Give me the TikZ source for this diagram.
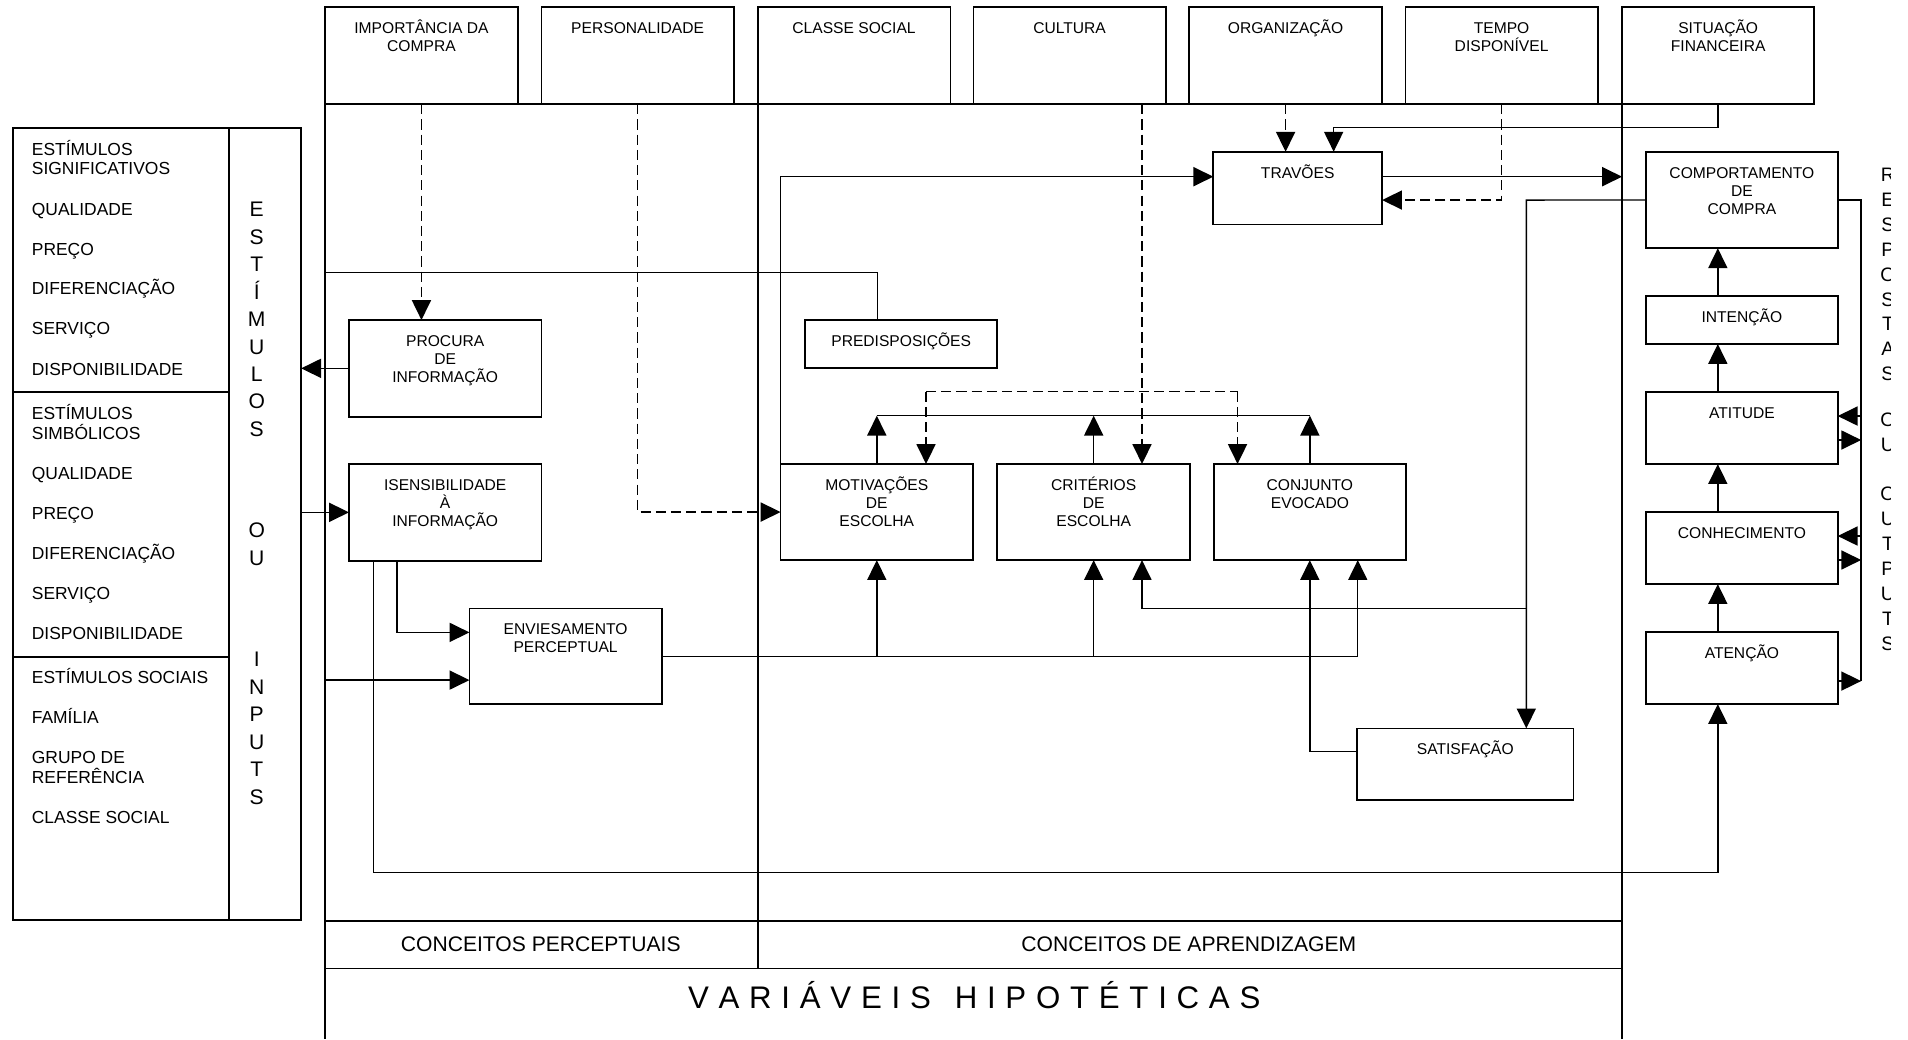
\documentclass[tikz,border=0pt]{standalone}
\usepackage{fontspec}
\setmainfont{Liberation Sans}
\usetikzlibrary{arrows.meta,fit}
\newcommand\mybox[6]{%
  \node[bx,fit={(#2,#3)(#4,#5)}] (#1) {};
  \node[lbl,anchor=north] (#1t) at ([yshift=-5.5pt]#1.north) {\rule{0pt}{7.5pt}#6};}
\newcommand\ltx[3]{%
  \node[ltxt,anchor=north west] (#1) at ([yshift=9pt]26.2,#2) {\rule{0pt}{9pt}#3};}
\begin{document}
\begin{tikzpicture}[x=0.6pt,y=-0.6pt,
  bx/.style={draw,line width=0.85pt,inner sep=0pt,outer sep=0pt},
  bl/.style={line width=0.85pt},
  lbl/.style={inner sep=0pt,outer sep=0pt,align=center,font=\fontsize{7.7}{8.9}\selectfont},
  ltxt/.style={inner sep=0pt,outer sep=0pt,align=left,font=\fontsize{8.6}{9.84}\selectfont},
  vlet/.style={inner sep=0pt,outer sep=0pt,align=center,font=\fontsize{10.4}{13.54}\selectfont},
  rlet/.style={inner sep=0pt,outer sep=0pt,align=center,font=\fontsize{9.6}{12.3}\selectfont},
  blab/.style={inner sep=0pt,outer sep=0pt,font=\fontsize{10.4}{12}\selectfont},
  ln/.style={line width=0.7pt},
  arr/.style={ln,-{Triangle[length=9.8pt,width=9.4pt]}},
  dsh/.style={dash pattern=on 5pt off 2.5pt}]
\useasboundingbox (0,0) rectangle (1568,854);

% frame
\draw[bl] (267.2,6) -- (267.2,854);
\draw[bl] (1333,6) -- (1333,854);
\draw[bl] (622.7,85.7) -- (622.7,795.8);
\draw[bl] (267.2,85.7) -- (1333,85.7);
\draw[bl] (267.2,756.6) -- (1333,756.6);
\draw[bl] (267.2,795.8) -- (1333,795.8);

% top boxes
\mybox{imp}{267.2}{6}{425.5}{85.7}{IMPORTÂNCIA DA\\COMPRA}
\mybox{per}{445}{6}{603}{85.7}{PERSONALIDADE}
\mybox{cls}{622.7}{6}{781}{85.7}{CLASSE SOCIAL}
\mybox{cul}{800}{6}{958}{85.7}{CULTURA}
\mybox{org}{977.3}{6}{1135.7}{85.7}{ORGANIZAÇÃO}
\mybox{tem}{1155}{6}{1313}{85.7}{TEMPO\\DISPONÍVEL}
\mybox{sit}{1333}{6}{1491}{85.7}{SITUAÇÃO\\FINANCEIRA}

% inner boxes
\mybox{trav}{997.1}{124.7}{1135.8}{184.4}{TRAVÕES}
\mybox{proc}{286.8}{263}{444.9}{342.4}{PROCURA\\DE\\INFORMAÇÃO}
\mybox{pred}{661.6}{263}{819.6}{302.7}{PREDISPOSIÇÕES}
\mybox{isen}{286.8}{381.3}{444.9}{460.8}{ISENSIBILIDADE\\À\\INFORMAÇÃO}
\mybox{envi}{385.8}{500}{543.8}{578.8}{ENVIESAMENTO\\PERCEPTUAL}
\mybox{mot}{641.5}{381.3}{799.6}{460.3}{MOTIVAÇÕES\\DE\\ESCOLHA}
\mybox{cri}{819.6}{381.3}{978}{460.3}{CRITÉRIOS\\DE\\ESCOLHA}
\mybox{con}{997.5}{381.3}{1155.4}{460.3}{CONJUNTO\\EVOCADO}
\mybox{sat}{1115.4}{598.6}{1293}{657.5}{SATISFAÇÃO}
\mybox{comp}{1352.8}{124.7}{1510.2}{204}{COMPORTAMENTO\\DE\\COMPRA}
\mybox{int}{1352.8}{243.3}{1510.2}{282.7}{INTENÇÃO}
\mybox{ati}{1352.8}{322.4}{1510.2}{381.4}{ATITUDE}
\mybox{conh}{1352.8}{421}{1510.2}{480}{CONHECIMENTO}
\mybox{aten}{1352.8}{519.5}{1510.2}{578.6}{ATENÇÃO}

% stimulus panel
\node[bx,fit={(10.6,104.9)(247.5,756.2)}] (stim) {};
\draw[bl] (188,104.9) -- (188,756.2);
\draw[bl] (10.6,322.4) -- (188,322.4);
\draw[bl] (10.6,539.7) -- (188,539.7);
\ltx{l1}{127.4}{ESTÍMULOS\\SIGNIFICATIVOS}
\ltx{l2}{176.7}{QUALIDADE}
\ltx{l3}{209.6}{PREÇO}
\ltx{l4}{242.4}{DIFERENCIAÇÃO}
\ltx{l5}{275.3}{SERVIÇO}
\ltx{l6}{308.2}{DISPONIBILIDADE}
\ltx{m1}{344.6}{ESTÍMULOS\\SIMBÓLICOS}
\ltx{m2}{393.9}{QUALIDADE}
\ltx{m3}{426.8}{PREÇO}
\ltx{m4}{459.6}{DIFERENCIAÇÃO}
\ltx{m5}{492.5}{SERVIÇO}
\ltx{m6}{525.4}{DISPONIBILIDADE}
\ltx{n1}{561.6}{ESTÍMULOS SOCIAIS}
\ltx{n2}{594.5}{FAMÍLIA}
\ltx{n3}{627.4}{GRUPO DE\\REFERÊNCIA}
\ltx{n4}{676.6}{CLASSE SOCIAL}
\node[vlet,anchor=north] (v1) at ([yshift=11pt]211,178.1) {\rule{0pt}{11pt}E\\S\\T\\Í\\M\\U\\L\\O\\S};
\node[vlet,anchor=north] (v2) at ([yshift=11pt]211,442) {\rule{0pt}{11pt}O\\U};
\node[vlet,anchor=north] (v3) at ([yshift=11pt]211,548) {\rule{0pt}{11pt}I\\N\\P\\U\\T\\S};

% right vertical text (clipped at the picture edge)
\begin{scope}
\clip (1535,100) rectangle (1553.3,560);
\node[rlet,anchor=north] (r1) at ([yshift=10pt]1551.5,149) {\rule{0pt}{10pt}R\\E\\S\\P\\O\\S\\T\\A\\S};
\node[rlet,anchor=north] (r2) at ([yshift=10pt]1551.5,350.7) {\rule{0pt}{10pt}O\\U};
\node[rlet,anchor=north] (r3) at ([yshift=10pt]1551.5,411.5) {\rule{0pt}{10pt}O\\U\\T\\P\\U\\T\\S};
\end{scope}

% bottom labels
\node[blab,anchor=base] (cp) at (444.4,782) {CONCEITOS PERCEPTUAIS};
\node[blab,anchor=base] (ca) at (977,782) {CONCEITOS DE APRENDIZAGEM};
\node[inner sep=0pt,anchor=base,font=\fontsize{15.4}{18}\selectfont] (vh) at (800.6,828.7)
  {\spaceskip=4.8pt\relax V A R I Á V E I S\hspace{7pt} H I P O T É T I C A S};

% coordinates
\coordinate (cx) at (938.5,0);
\coordinate (tj) at (1234,164.4);
\coordinate (sj) at (1096,104.9);
\coordinate (mj) at (0,145.2);
\coordinate (fr) at (1333,145.2);
\coordinate (pj) at (721,223.8);
\coordinate (fj) at (267.2,223.8);
\coordinate (fk) at (267.2,558.9);
\coordinate (ia) at (326.2,519.7);
\coordinate (ib) at (306.8,716.9);
\coordinate (rc) at (1411.7,0);
\coordinate (eb) at (0,539.7);
\coordinate (ec) at (1115.8,539.7);
\coordinate (tb) at (0,341.6);
\coordinate (da) at (761,321.9);
\coordinate (db) at (1017,321.9);
\coordinate (ca2) at (1254.3,164.4);
\coordinate (cb) at (1254.3,500);
\coordinate (sa) at (1076.4,617.7);
\coordinate (a1) at (1529.5,341.9);
\coordinate (a2) at (1529.5,361.6);
\coordinate (a3) at (1529.5,440.5);
\coordinate (a4) at (1529.5,460.2);
\coordinate (a5) at (1529.5,559.7);

% dashed influences
\draw[arr,dsh] (imp.south) -- (imp.south |- proc.north);
\draw[arr,dsh] (per.south) |- (mot.west);
\draw[arr,dsh] (cul.south -| cx) -- (cri.north -| cx);
\draw[arr,dsh] (org.south) -- (org.south |- trav.north);
\draw[arr,dsh] (tem.south) |- (trav.east |- tj);
\draw[ln,dsh] (da) -- (db);
\draw[arr,dsh] (da) -- (da |- mot.north);
\draw[arr,dsh] (db) -- (db |- con.north);

% solid connectors
\draw[arr] (sit.south) |- (sj) -- (sj |- trav.north);
\draw[arr] (mot.north west) |- (trav.west |- mj);
\draw[arr] (trav.east |- mj) -- (fr);
\draw[arr] (pj |- pred.north) -- (pj) -- (fj) -- (fk) -- (envi.west |- fk);
\draw[arr] (proc.west) -- (stim.east |- proc.west);
\draw[arr] (stim.east |- isen.west) -- (isen.west);
\draw[arr] (ia |- isen.south) -- (ia) -- (envi.west |- ia);
\draw[arr] (ib |- isen.south) -- (ib) -- (rc |- ib) -- (rc |- aten.south);
\draw[arr] (envi.east |- eb) -- (ec) -- (ec |- con.south);
\draw[arr] (mot.south |- eb) -- (mot.south);
\draw[arr] (cri.south |- eb) -- (cri.south);
\draw[ln] (mot.north |- tb) -- (con.north |- tb);
\draw[arr] (mot.north) -- (mot.north |- tb);
\draw[arr] (cri.north) -- (cri.north |- tb);
\draw[arr] (con.north) -- (con.north |- tb);
\draw[arr] (comp.west) -- (ca2) -- (ca2 |- sat.north);
\draw[arr] (cb) -- (cx |- cb) -- (cx |- cri.south);
\draw[arr] (sat.west |- sa) -- (sa) -- (sa |- con.south);

% right column
\draw[arr] (rc |- aten.north) -- (rc |- conh.south);
\draw[arr] (rc |- conh.north) -- (rc |- ati.south);
\draw[arr] (rc |- ati.north) -- (rc |- int.south);
\draw[arr] (rc |- int.north) -- (rc |- comp.south);
\draw[ln] (comp.east) -| (a5);
\draw[arr] (a1) -- (ati.east |- a1);
\draw[arr] (ati.east |- a2) -- (a2);
\draw[arr] (a3) -- (conh.east |- a3);
\draw[arr] (conh.east |- a4) -- (a4);
\draw[arr] (aten.east |- a5) -- (a5);
\end{tikzpicture}
\end{document}
